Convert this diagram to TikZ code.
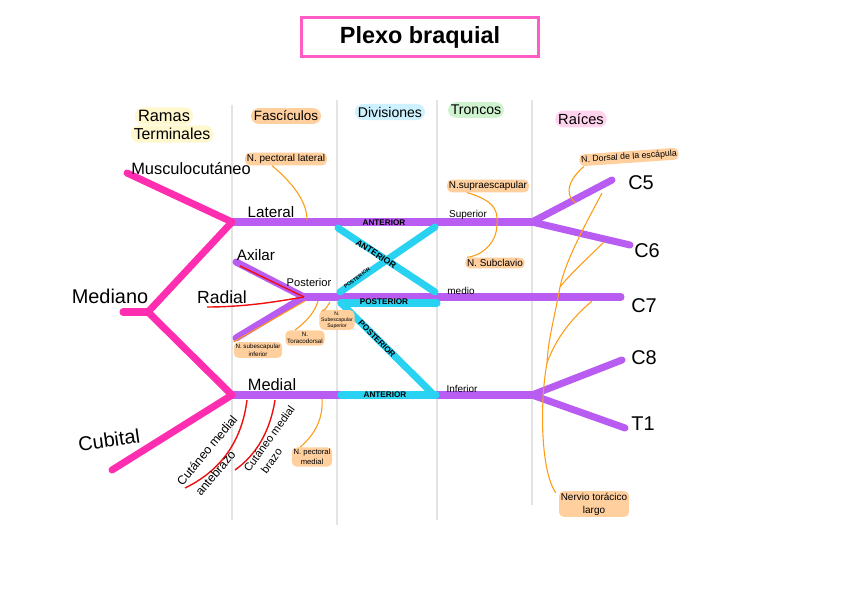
\documentclass[tikz,border=0pt]{standalone}
\usepackage{fontspec}
\setmainfont{Liberation Sans}
\usepackage{tikz}
\usetikzlibrary{positioning,calc}
\definecolor{pbPurple}{HTML}{B85CF2}
\definecolor{pbPink}{HTML}{FF2DAF}
\definecolor{pbTitle}{HTML}{FF5CC6}
\definecolor{pbCyan}{HTML}{2AD2F2}
\definecolor{pbOrange}{HTML}{FF9A12}
\definecolor{pbRed}{HTML}{EE1010}
\definecolor{pbHlOrange}{HTML}{FFCF9E}
\definecolor{pbHlYellow}{HTML}{FFF8CF}
\definecolor{pbHlBlue}{HTML}{CDF1FF}
\definecolor{pbHlGreen}{HTML}{CFF3CF}
\definecolor{pbHlPink}{HTML}{FFD3EE}
\tikzset{
  %% thick strokes of the plexus
  pbCord/.style={draw=pbPurple, line width=6pt, line cap=round},
  pbTerm/.style={draw=pbPink, line width=6pt, line cap=round, line join=miter},
  pbDiv/.style={draw=pbCyan, line width=6pt, line cap=round},
  %% thin branches
  pbRama/.style={draw=pbRed, line width=1.2pt},
  pbNerve/.style={draw=pbOrange, line width=0.9pt},
  pbCol/.style={draw=gray!22, line width=1.5pt},
  %% labels
  pbHead/.style={rounded corners=7pt, inner sep=2.5pt, font=\fontsize{12}{14}\selectfont},
  pbTag/.style={fill=pbHlOrange, rounded corners=4pt, inner sep=1.5pt, align=center,
    font=\fontsize{8.5}{10}\selectfont},
  pbDivLbl/.style={inner sep=0pt, font=\fontsize{7}{8}\selectfont\bfseries},
  pbTrkLbl/.style={inner sep=0pt, font=\fontsize{8.5}{10}\selectfont},
  pbRoot/.style={inner sep=0pt, font=\fontsize{17}{18}\selectfont},
}

\begin{document}
\begin{tikzpicture}[x=0.03cm, y=-0.03cm]
\useasboundingbox (0,0) rectangle (848,599);

\node[draw=pbTitle, line width=2.5pt, minimum width=7.1cm, minimum height=1.15cm,
  font=\fontsize{20}{22}\selectfont\bfseries] (title) at (420,37) {Plexo braquial};

%% column rules
\foreach \x/\t/\b in {232/105/520, 337/100/525, 437/100/520, 532/100/505}
  \draw[pbCol] (\x,\t) -- (\x,\b);

%% headers
\node[pbHead, fill=pbHlYellow, font=\fontsize{14}{16}\selectfont] (hRamas) at (164,116) {Ramas};
\node[pbHead, fill=pbHlYellow, font=\fontsize{13.5}{16}\selectfont] (hTerm) at (172,134) {Terminales};
\node[pbHead, fill=pbHlOrange, font=\fontsize{11.5}{14}\selectfont] (hFasc) at (286,116) {Fascículos};
\node[pbHead, fill=pbHlBlue] (hDiv) at (390,112) {Divisiones};
\node[pbHead, fill=pbHlGreen] (hTron) at (476,110) {Troncos};
\node[pbHead, fill=pbHlPink, font=\fontsize{12.5}{15}\selectfont] (hRaic) at (581,119) {Raíces};

%% junctions and free ends
\coordinate (jLat)  at (232,222);
\coordinate (jMed)  at (232,395);
\coordinate (jPost) at (304,297);
\coordinate (jMedn) at (148,312);
\coordinate (tSup)  at (532,222);
\coordinate (tInf)  at (532,395);
\coordinate (eMusc) at (127,173);
\coordinate (eMedn) at (123,312);
\coordinate (eCub)  at (112,470);
\coordinate (eAxi)  at (236,262);
\coordinate (eSub)  at (236,338);
\coordinate (rC5) at (612,180);
\coordinate (rC6) at (630,245);
\coordinate (rC7) at (621,297);
\coordinate (rC8) at (622,360);
\coordinate (rT1) at (625,428);

%% roots, trunks, cords
\draw[pbCord] (jLat) -- (tSup);
\draw[pbCord] (tSup) -- (rC5);
\draw[pbCord] (tSup) -- (rC6);
\draw[pbCord] (jPost) -- (rC7);
\draw[pbCord] (jMed) -- (tInf);
\draw[pbCord] (tInf) -- (rC8);
\draw[pbCord] (tInf) -- (rT1);
\draw[pbCord] (eAxi) -- (jPost);
\draw[pbCord] (eSub) -- (jPost);

\node[pbRoot] (C5) at (641,183) {C5};
\node[pbRoot] (C6) at (647,251) {C6};
\node[pbRoot] (C7) at (644,306) {C7};
\node[pbRoot] (C8) at (644,358) {C8};
\node[pbRoot] (T1) at (643,424) {T1};

%% divisions
\coordinate (dA1) at (338,228);
\coordinate (dA2) at (435,292);
\coordinate (dP1) at (340,292);
\coordinate (dP2) at (435,227);
\coordinate (dH1) at (341,303);
\coordinate (dH2) at (437,303);
\coordinate (dQ2) at (432,393);
\coordinate (dB1) at (341,395);
\coordinate (dB2) at (436,395);
\draw[pbDiv] (dA1) -- (dA2);
\draw[pbDiv] (dP1) -- (dP2);
\draw[pbDiv] (dH1) -- (dH2);
\draw[pbDiv] (dH1) -- (dQ2);
\draw[pbDiv] (dB1) -- (dB2);

\node[pbDivLbl] (lA1) at (384,223) {ANTERIOR};
\node[pbDivLbl, rotate=-33, font=\fontsize{7.5}{8}\selectfont\bfseries] (lA2) at (376,254) {ANTERIOR};
\node[pbDivLbl, rotate=36, font=\fontsize{4.5}{5}\selectfont\bfseries] (lP1) at (357,278) {POSTERIOR};
\node[pbDivLbl] (lP2) at (384,302) {POSTERIOR};
\node[pbDivLbl, rotate=-45] (lP3) at (377,339) {POSTERIOR};
\node[pbDivLbl] (lA3) at (385,395) {ANTERIOR};

\node[pbTrkLbl] (lSup) at (468,215) {Superior};
\node[pbTrkLbl] (lMid) at (461,291) {medio};
\node[pbTrkLbl] (lInf) at (462,389) {Inferior};

%% terminal branches
\draw[pbTerm] (eMusc) -- (jLat);
\draw[pbTerm] (eMedn) -- (jMedn);
\draw[pbTerm] (jLat) -- (jMedn) -- (jMed);
\draw[pbTerm] (jMed) -- (eCub);

\node[font=\fontsize{14}{16}\selectfont] (nMusc) at (191,169) {Musculocutáneo};
\node[font=\fontsize{17}{18}\selectfont] (nMedn) at (110,296) {Mediano};
\node[font=\fontsize{17}{18}\selectfont, rotate=8] (nCub) at (109,440) {Cubital};
\node[font=\fontsize{15}{16}\selectfont] (nRad) at (222,297) {Radial};
\node[font=\fontsize{13}{14}\selectfont] (nLat) at (271,212) {Lateral};
\node[font=\fontsize{13}{14}\selectfont] (nAxi) at (256,255) {Axilar};
\node[font=\fontsize{9.5}{10}\selectfont] (nPost) at (309,283) {Posterior};
\node[font=\fontsize{14}{15}\selectfont] (nMedl) at (272,385) {Medial};

%% red branches
\coordinate (eAxiR) at (240,266);
\coordinate (eRad)  at (207,307);
\coordinate (bAnt1) at (247,400);
\coordinate (bAnt2) at (185,488);
\coordinate (bBra1) at (275,400);
\coordinate (bBra2) at (235,470);
\draw[pbRama] (eAxiR) -- (jPost);
\draw[pbRama] (eRad) .. controls (250,307) and (285,300) .. (jPost);
\draw[pbRama] (bAnt1) .. controls (242,440) and (222,470) .. (bAnt2);
\draw[pbRama] (bBra1) .. controls (270,432) and (256,455) .. (bBra2);

\node[align=left, inner sep=0pt, rotate=50, font=\fontsize{10.5}{18}\selectfont] (nCutAnt) at (215,457) {Cutáneo medial\\\hspace*{0.3em}antebrazo};
\node[align=left, inner sep=0pt, rotate=54, font=\fontsize{9.5}{12.5}\selectfont] (nCutBra) at (275,443) {Cutáneo medial\\\hspace*{0.8em}brazo};

%% collateral nerves
\node[pbTag] (tPecLat) at (286,159) {N. pectoral lateral};
\node[pbTag] (tSupra) at (488,186) {N.supraescapular};
\node[pbTag] (tSubcl) at (495,263) {N. Subclavio};
\node[pbTag, rotate=4, font=\fontsize{7.5}{9}\selectfont] (tDorsal) at (629,157) {N. Dorsal de la escápula};
\node[pbTag, font=\fontsize{5.3}{6.5}\selectfont] (tSubInf) at (258,350) {N. subescapular\\inferior};
\node[pbTag, font=\fontsize{5.3}{6.5}\selectfont] (tTorac) at (305,338) {N.\\Toracodorsal};
\node[pbTag, font=\fontsize{4.4}{5}\selectfont] (tSubSup) at (337,320) {N.\\Subescapular\\Superior};
\node[pbTag, font=\fontsize{6.5}{8.5}\selectfont] (tPecMed) at (312,457) {N. pectoral\\medial};
\node[pbTag, font=\fontsize{8.5}{11}\selectfont] (tLargo) at (594,504) {Nervio torácico\\largo};

\coordinate (oPecLat) at (307,220);
\coordinate (oSupra) at (497,225);
\coordinate (oSubInf) at (305,301);
\coordinate (oTorac) at (318,301);
\coordinate (oSubSup) at (330,302);
\coordinate (oPecMed) at (322,399);
\coordinate (oDorsal) at (576,203);
\coordinate (gC5) at (602,193);
\coordinate (gC6) at (604,242);
\coordinate (gC7) at (592,301);
\coordinate (gA) at (560,287);
\coordinate (gB) at (547,363);

\draw[pbNerve] ($(tPecLat.south)+(-14,0)$) .. controls (295,185) and (307,203) .. (oPecLat);
\draw[pbNerve] ($(tSupra.south)+(-21,0)$) .. controls (500,202) and (497,215) .. (oSupra)
  .. controls (497,240) and (485,255) .. ($(tSubcl.north)+(-28,0)$);
\draw[pbNerve] ($(tSubInf.north west)+(0,0)$) -- (oSubInf);
\draw[pbNerve] ($(tTorac.north)+(-10,0)$) .. controls (306,322) and (315,312) .. (oTorac);
\draw[pbNerve] ($(tSubSup.north)+(-15,1)$) .. controls (325,310) .. (oSubSup);
\draw[pbNerve] ($(tPecMed.north)+(-12,0)$) .. controls (318,432) and (323,415) .. (oPecMed);
\draw[pbNerve] ($(tDorsal.south west)+(4,0)$) .. controls (563,185) and (568,198) .. (oDorsal);
\draw[pbNerve] (gC5) .. controls (585,225) and (565,262) .. (gA)
  .. controls (554,320) and (548,340) .. (gB)
  .. controls (540,400) and (540,470) .. ($(tLargo.north west)+(-3,2)$);
\draw[pbNerve] (gC6) .. controls (588,258) and (572,272) .. (gA);
\draw[pbNerve] (gC7) .. controls (572,318) and (556,338) .. (gB);
\end{tikzpicture}
\end{document}
